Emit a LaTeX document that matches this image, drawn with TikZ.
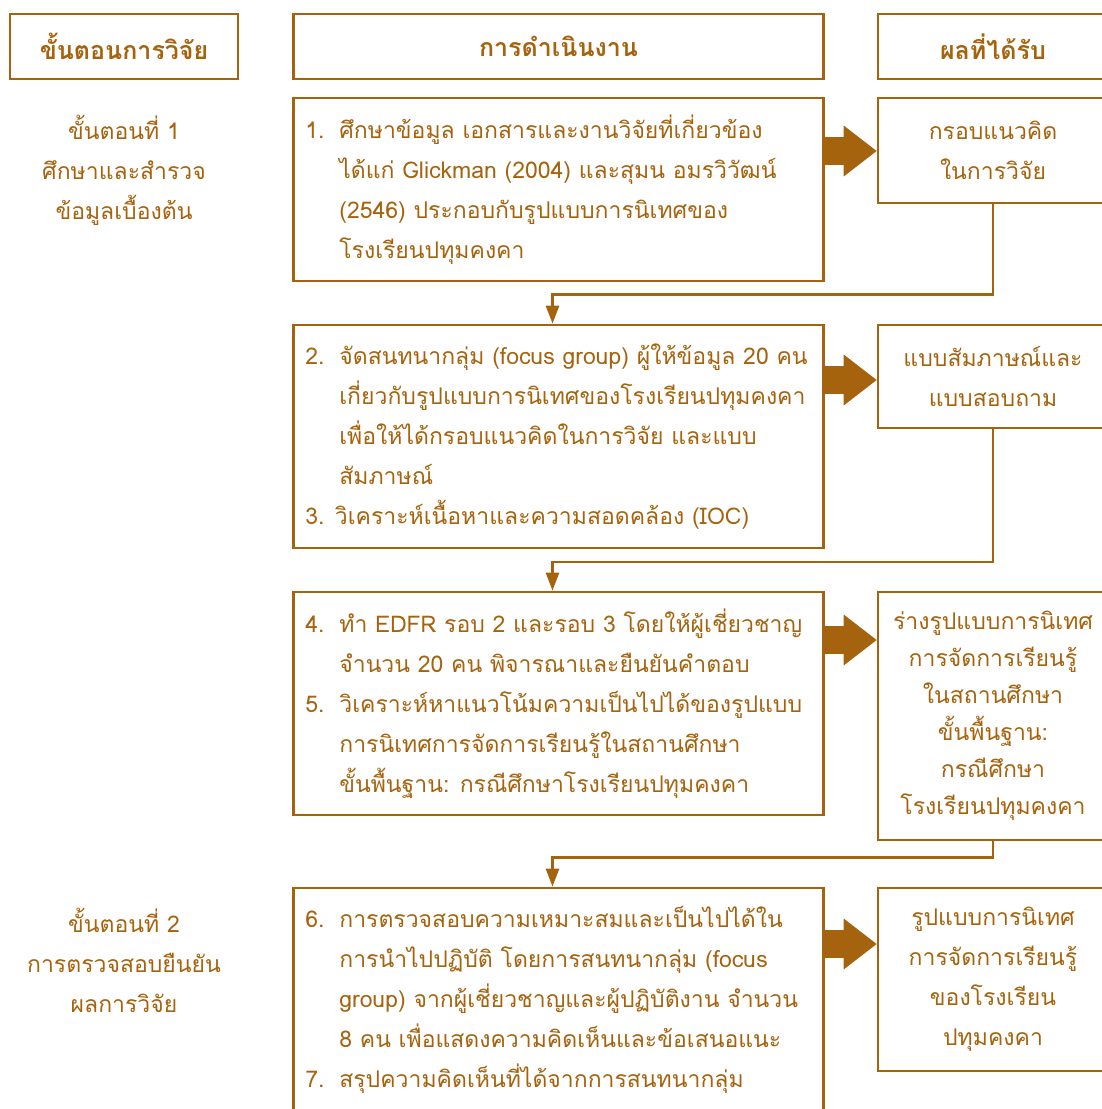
\documentclass[tikz,border=0pt]{standalone}
\usepackage{fontspec}
\setmainfont[Script=Thai]{Loma}
\usepackage{tikz}
\usetikzlibrary{calc}
\usetikzlibrary{arrows.meta}
\usetikzlibrary{positioning}
\definecolor{brn}{RGB}{166,99,14}
\tikzset{>=latex}
\tikzstyle{box} = [rectangle, draw=brn, line width=2.7pt, inner sep=0, text=brn, align=center, font=\fontsize{23}{40}\selectfont]
\tikzstyle{head} = [box, minimum height=65pt, font=\bfseries\fontsize{25}{40}\selectfont]
\tikzstyle{txt} = [draw=none, inner sep=0, text=brn, font=\fontsize{23}{40}\selectfont]
\tikzstyle{link} = [-{Triangle[width=13pt,length=18pt]}, draw=brn, line width=2.7pt]
\tikzstyle{bigarrow} = [-{Triangle[width=51pt,length=33pt,line width=0pt]}, draw=brn, line width=28pt]
\newcommand{\num}[1]{\makebox[34pt][l]{#1}}
\newcommand{\ind}{\hspace*{34pt}}

\begin{document}
\begin{tikzpicture}[x=1pt, y=-1pt]
\useasboundingbox (0,0) rectangle (1102,1109);
\clip (0,0) rectangle (1102,1109);
% headers
\node [head, minimum width=228pt] (h1) at (124, 46.5) {ขั้นตอนการวิจัย};
\node [head, minimum width=530pt] (h2) at (558.5, 46.5) {การดำเนินงาน};
\node [head, minimum width=230pt] (h3) at (993, 46.5) {ผลที่ได้รับ};
% left column
\node [txt, align=center] (s1) at (124, 170) {ขั้นตอนที่ 1\\ศึกษาและสำรวจ\\ข้อมูลเบื้องต้น};
\node [txt, align=center] (s2) at (124, 960) {ขั้นตอนที่ 2\\การตรวจสอบยืนยัน\\ผลการวิจัย};
% middle boxes
\node [box, minimum width=530pt, minimum height=183pt] (b1) at (558.5, 189.5) {};
\node [box, minimum width=530pt, minimum height=223pt] (b2) at (558.5, 436.5) {};
\node [box, minimum width=530pt, minimum height=223pt] (b3) at (558.5, 703.5) {};
\node [box, minimum width=530pt, minimum height=224pt] (b4) at (558.5, 1000) {};
\node [txt, align=left, anchor=west] (t1) at ([xshift=13pt]b1.west) {\num{1.}ศึกษาข้อมูล เอกสารและงานวิจัยที่เกี่ยวข้อง\\
\ind ได้แก่ Glickman (2004) และสุมน อมรวิวัฒน์\\
\ind (2546) ประกอบกับรูปแบบการนิเทศของ\\
\ind โรงเรียนปทุมคงคา};
\node [txt, align=left, anchor=west] (t2) at ([xshift=13pt]b2.west) {\num{2.}จัดสนทนากลุ่ม (focus group) ผู้ให้ข้อมูล 20 คน\\
\ind เกี่ยวกับรูปแบบการนิเทศของโรงเรียนปทุมคงคา\\
\ind เพื่อให้ได้กรอบแนวคิดในการวิจัย และแบบ\\
\ind สัมภาษณ์\\
3. วิเคราะห์เนื้อหาและความสอดคล้อง (IOC)};
\node [txt, align=left, anchor=west] (t3) at ([xshift=13pt]b3.west) {\num{4.}ทำ EDFR รอบ 2 และรอบ 3 โดยให้ผู้เชี่ยวชาญ\\
\ind จำนวน 20 คน พิจารณาและยืนยันคำตอบ\\
\num{5.}วิเคราะห์หาแนวโน้มความเป็นไปได้ของรูปแบบ\\
\ind การนิเทศการจัดการเรียนรู้ในสถานศึกษา\\
\ind ขั้นพื้นฐาน: กรณีศึกษาโรงเรียนปทุมคงคา};
\node [txt, align=left, anchor=west] (t4) at ([xshift=13pt]b4.west) {\num{6.}การตรวจสอบความเหมาะสมและเป็นไปได้ใน\\
\ind การนำไปปฏิบัติ โดยการสนทนากลุ่ม (focus\\
\ind group) จากผู้เชี่ยวชาญและผู้ปฏิบัติงาน จำนวน\\
\ind 8 คน เพื่อแสดงความคิดเห็นและข้อเสนอแนะ\\
\num{7.}สรุปความคิดเห็นที่ได้จากการสนทนากลุ่ม};
% results
\node [box, minimum width=230pt, minimum height=105pt] (r1) at (993, 150.5) {กรอบแนวคิด\\ในการวิจัย};
\node [box, minimum width=230pt, minimum height=103pt] (r2) at (993, 376.5) {แบบสัมภาษณ์และ\\แบบสอบถาม};
\node [box, minimum width=230pt, minimum height=248pt, font=\fontsize{23}{37}\selectfont] (r3) at (993, 716) {ร่างรูปแบบการนิเทศ\\การจัดการเรียนรู้\\ในสถานศึกษา\\ขั้นพื้นฐาน:\\กรณีศึกษา\\โรงเรียนปทุมคงคา};
\node [box, minimum width=230pt, minimum height=183pt] (r4) at (993, 979.5) {รูปแบบการนิเทศ\\การจัดการเรียนรู้\\ของโรงเรียน\\ปทุมคงคา};
% block arrows
\coordinate (y1) at (0, 151);
\coordinate (y2) at (0, 380);
\coordinate (y3) at (0, 640);
\coordinate (y4) at (0, 944);
\draw [bigarrow] (b1.east |- y1) -- (r1.west |- y1);
\draw [bigarrow] (b2.east |- y2) -- (r2.west |- y2);
\draw [bigarrow] (b3.east |- y3) -- (r3.west |- y3);
\draw [bigarrow] (b4.east |- y4) -- (r4.west |- y4);
% links back
\coordinate (j1) at (0, 294.5);
\coordinate (j2) at (0, 562);
\coordinate (j3) at (0, 857.5);
\draw [link] (r1.south) -- (r1.south |- j1) -| ([xshift=-6pt]b2.north);
\draw [link] (r2.south) -- (r2.south |- j2) -| ([xshift=-6pt]b3.north);
\draw [link] (r3.south) -- (r3.south |- j3) -| ([xshift=-6pt]b4.north);
\end{tikzpicture}
\end{document}
